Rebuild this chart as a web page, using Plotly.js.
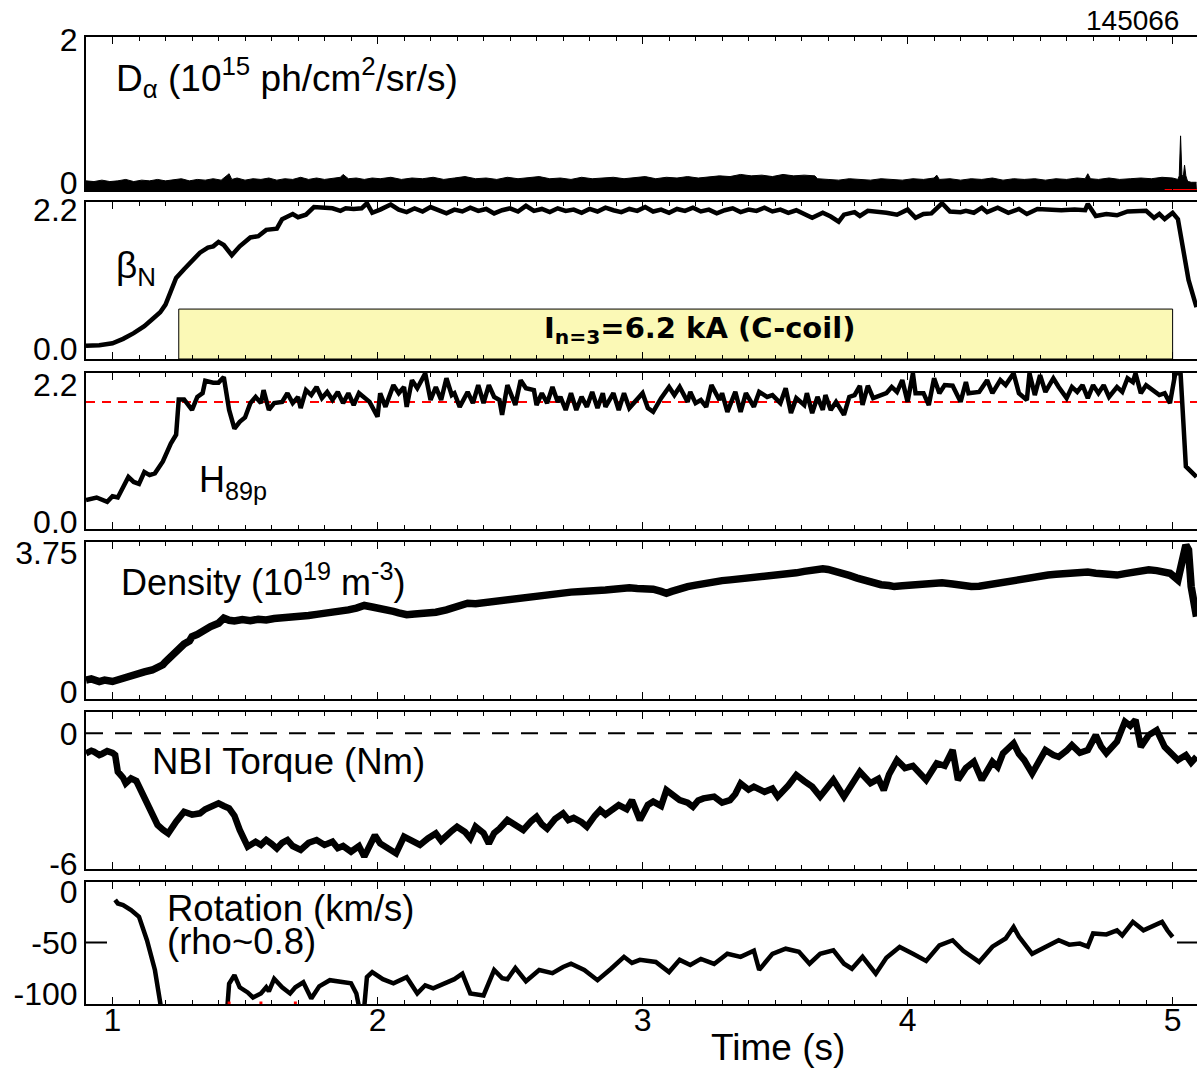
<!DOCTYPE html>
<html>
<head>
<meta charset="utf-8">
<script src="https://cdn.plot.ly/plotly-3.0.1.min.js"></script>
<style>html,body{margin:0;padding:0;background:#fff;}#chart{width:1197px;height:1068px;}</style>
</head>
<body>
<div id="chart"></div>
<script>
// ---------------- DATA ----------------
const xRange = [0.9, 5.092];

// D-alpha envelope (10^15 ph/cm^2/sr/s)
const daTime = [0.90,0.93,0.96,0.99,1.02,1.05,1.08,1.11,1.14,1.17,1.20,1.23,1.26,1.29,1.32,1.35,1.38,1.41,1.44,1.45,1.47,1.50,1.53,1.56,1.59,1.62,1.65,1.68,1.71,1.74,1.77,1.80,1.83,1.86,1.87,1.89,1.92,1.95,1.98,2.01,2.05,2.09,2.13,2.17,2.21,2.25,2.29,2.33,2.37,2.41,2.45,2.49,2.53,2.57,2.61,2.65,2.69,2.73,2.77,2.81,2.85,2.89,2.93,2.97,3.01,3.05,3.09,3.13,3.17,3.21,3.25,3.29,3.33,3.37,3.41,3.45,3.49,3.53,3.57,3.61,3.65,3.66,3.70,3.74,3.78,3.82,3.86,3.90,3.94,3.98,4.02,4.06,4.10,4.11,4.12,4.16,4.20,4.24,4.28,4.32,4.36,4.40,4.44,4.48,4.52,4.56,4.60,4.64,4.67,4.68,4.69,4.72,4.76,4.80,4.84,4.88,4.92,4.96,5.00,5.02,5.025,5.03,5.035,5.04,5.045,5.05,5.055,5.06,5.07,5.09];
const daValue = [0.03,0.02,0.04,0.02,0.03,0.05,0.02,0.04,0.03,0.05,0.03,0.04,0.06,0.03,0.05,0.04,0.06,0.04,0.13,0.05,0.07,0.04,0.06,0.05,0.07,0.04,0.06,0.05,0.08,0.05,0.07,0.05,0.06,0.08,0.12,0.06,0.07,0.05,0.07,0.06,0.08,0.05,0.07,0.06,0.08,0.05,0.07,0.09,0.06,0.07,0.05,0.08,0.06,0.07,0.09,0.06,0.07,0.05,0.08,0.06,0.07,0.08,0.06,0.07,0.09,0.06,0.08,0.07,0.09,0.07,0.08,0.10,0.09,0.12,0.10,0.11,0.09,0.12,0.10,0.11,0.10,0.06,0.05,0.04,0.06,0.05,0.04,0.06,0.05,0.04,0.06,0.05,0.07,0.11,0.05,0.06,0.04,0.06,0.05,0.07,0.04,0.06,0.05,0.06,0.04,0.06,0.05,0.07,0.06,0.13,0.06,0.05,0.07,0.05,0.06,0.07,0.06,0.08,0.07,0.05,0.10,0.66,0.12,0.08,0.25,0.10,0.04,0.02,0.01,0.01];
const daBaseline = [-0.1, -0.1];
const daRedTime = [4.97, 5.092];
const daRedValue = [-0.094, -0.094];

// beta_N
const betaTime = [0.90,0.95,1.00,1.04,1.08,1.12,1.15,1.18,1.20,1.22,1.24,1.27,1.30,1.33,1.36,1.38,1.40,1.42,1.45,1.48,1.52,1.55,1.58,1.62,1.64,1.68,1.70,1.73,1.76,1.80,1.83,1.86,1.88,1.91,1.94,1.96,1.98,2.01,2.05,2.08,2.11,2.14,2.17,2.20,2.23,2.26,2.29,2.32,2.35,2.38,2.41,2.44,2.47,2.50,2.53,2.56,2.59,2.62,2.65,2.68,2.71,2.74,2.77,2.80,2.83,2.86,2.89,2.92,2.95,2.98,3.01,3.04,3.07,3.10,3.13,3.16,3.19,3.22,3.25,3.28,3.31,3.34,3.37,3.40,3.43,3.46,3.49,3.52,3.55,3.58,3.61,3.64,3.68,3.71,3.74,3.76,3.80,3.82,3.85,3.88,3.92,3.96,4.00,4.03,4.06,4.09,4.13,4.16,4.20,4.22,4.25,4.28,4.30,4.34,4.38,4.42,4.45,4.49,4.53,4.58,4.63,4.67,4.68,4.71,4.75,4.79,4.83,4.87,4.90,4.93,4.95,4.97,5.00,5.02,5.04,5.06,5.09];
const betaValue = [0.05,0.06,0.09,0.16,0.25,0.36,0.47,0.58,0.70,0.90,1.12,1.26,1.40,1.52,1.60,1.62,1.69,1.64,1.48,1.62,1.76,1.78,1.88,1.90,2.05,2.13,2.08,2.12,2.24,2.22,2.22,2.18,2.22,2.21,2.22,2.30,2.15,2.20,2.28,2.20,2.16,2.22,2.17,2.24,2.19,2.14,2.20,2.17,2.23,2.18,2.21,2.14,2.19,2.22,2.17,2.26,2.18,2.21,2.16,2.22,2.18,2.20,2.15,2.21,2.17,2.23,2.19,2.16,2.21,2.18,2.24,2.17,2.20,2.15,2.21,2.18,2.23,2.17,2.20,2.14,2.19,2.22,2.16,2.20,2.18,2.23,2.17,2.20,2.15,2.19,2.13,2.07,2.15,2.09,2.01,2.12,2.16,2.10,2.18,2.17,2.15,2.12,2.20,2.07,2.13,2.14,2.30,2.17,2.16,2.18,2.15,2.23,2.16,2.23,2.15,2.21,2.13,2.21,2.20,2.19,2.20,2.19,2.29,2.10,2.13,2.11,2.17,2.17,2.18,2.07,2.13,2.05,2.15,2.05,1.57,1.09,0.66];
const coilStart = 1.25, coilEnd = 5.0, coilTop = 0.63;

// H89p
const hTime = [0.90,0.94,0.98,1.00,1.02,1.06,1.08,1.10,1.12,1.14,1.16,1.18,1.19,1.22,1.24,1.25,1.27,1.30,1.32,1.34,1.35,1.38,1.40,1.42,1.44,1.46,1.48,1.50,1.52,1.54,1.56,1.57,1.59,1.61,1.64,1.66,1.68,1.70,1.71,1.73,1.75,1.77,1.79,1.81,1.83,1.85,1.87,1.89,1.91,1.93,1.95,1.97,2.00,2.01,2.03,2.06,2.08,2.10,2.11,2.13,2.15,2.18,2.20,2.22,2.24,2.26,2.28,2.29,2.31,2.34,2.36,2.38,2.40,2.42,2.44,2.46,2.47,2.49,2.52,2.54,2.56,2.59,2.60,2.62,2.64,2.66,2.68,2.69,2.71,2.73,2.75,2.77,2.79,2.81,2.83,2.85,2.86,2.89,2.91,2.93,2.95,2.98,3.00,3.02,3.04,3.07,3.10,3.12,3.14,3.17,3.18,3.20,3.22,3.24,3.26,3.29,3.30,3.32,3.35,3.37,3.39,3.42,3.44,3.47,3.49,3.52,3.54,3.56,3.58,3.61,3.62,3.64,3.66,3.68,3.69,3.71,3.73,3.76,3.78,3.80,3.82,3.83,3.85,3.87,3.92,3.94,3.96,3.98,4.00,4.02,4.03,4.06,4.08,4.10,4.12,4.14,4.17,4.20,4.22,4.23,4.27,4.30,4.32,4.35,4.37,4.40,4.42,4.45,4.46,4.48,4.50,4.52,4.55,4.57,4.60,4.62,4.64,4.66,4.68,4.70,4.72,4.74,4.76,4.79,4.81,4.83,4.85,4.86,4.88,4.90,4.93,4.95,4.97,4.99,5.01,5.03,5.04,5.05,5.09];
const hValue = [0.35,0.39,0.32,0.41,0.39,0.72,0.64,0.61,0.80,0.75,0.78,0.90,0.97,1.26,1.40,1.97,1.97,1.80,2.01,2.07,2.27,2.24,2.24,2.33,1.80,1.50,1.61,1.68,1.91,2.01,1.91,2.12,1.80,1.91,1.93,2.07,1.91,2.01,1.83,2.12,2.04,2.17,1.99,2.09,1.96,2.09,1.91,2.07,1.88,2.07,1.99,1.93,1.69,2.07,1.85,2.20,2.07,2.17,1.85,2.28,2.15,2.39,1.96,2.17,1.96,2.31,2.04,2.07,1.85,2.09,1.91,2.20,1.91,2.20,2.01,1.96,1.72,2.20,1.88,2.28,2.15,2.12,1.88,2.07,1.91,2.17,1.93,2.01,1.80,2.07,1.80,2.01,1.85,2.09,1.83,2.07,1.85,2.07,1.80,2.07,1.83,1.96,2.07,1.83,1.77,1.99,2.17,2.04,2.17,1.93,2.09,1.91,1.96,1.85,2.20,1.96,2.07,1.77,2.09,1.77,2.07,1.85,2.09,2.01,2.04,1.91,2.15,1.75,1.99,1.88,2.07,1.75,2.01,1.80,2.04,1.80,1.93,1.72,2.01,2.04,2.19,1.88,2.19,1.99,2.07,2.17,2.09,2.28,1.93,2.39,2.07,2.07,1.88,2.31,2.07,2.20,2.19,1.93,2.25,2.07,2.09,2.28,2.07,2.28,2.20,2.39,2.07,1.96,2.39,2.04,2.36,2.09,2.31,2.17,1.99,2.17,2.09,2.20,1.99,2.20,2.07,2.20,2.01,2.17,2.09,2.31,2.25,2.39,2.07,2.20,2.09,2.04,2.07,1.91,2.39,2.39,1.64,0.89,0.72];
const hRef = [1.93, 1.93];

// Density (10^19 m^-3)
const neTime = [0.90,0.92,0.95,0.97,1.00,1.02,1.04,1.06,1.08,1.10,1.12,1.15,1.17,1.19,1.20,1.22,1.23,1.25,1.27,1.29,1.30,1.32,1.34,1.36,1.37,1.40,1.42,1.44,1.46,1.49,1.52,1.55,1.58,1.61,1.65,1.68,1.71,1.74,1.77,1.80,1.83,1.86,1.89,1.92,1.95,1.98,2.01,2.03,2.06,2.08,2.11,2.14,2.18,2.22,2.26,2.30,2.34,2.37,2.40,2.43,2.45,2.48,2.52,2.55,2.58,2.61,2.64,2.67,2.70,2.73,2.77,2.80,2.83,2.86,2.89,2.92,2.95,2.98,3.00,3.02,3.04,3.07,3.09,3.11,3.13,3.15,3.17,3.20,3.22,3.25,3.27,3.30,3.33,3.36,3.39,3.42,3.45,3.48,3.52,3.55,3.58,3.61,3.64,3.66,3.68,3.70,3.72,3.75,3.78,3.81,3.85,3.88,3.90,3.93,3.95,3.98,4.02,4.06,4.10,4.13,4.17,4.20,4.24,4.27,4.30,4.33,4.35,4.38,4.41,4.44,4.47,4.50,4.53,4.56,4.60,4.64,4.68,4.71,4.74,4.77,4.79,4.82,4.85,4.88,4.91,4.94,4.96,4.99,5.02,5.04,5.05,5.06,5.07,5.09];
const neValue = [0.33,0.36,0.29,0.33,0.29,0.34,0.38,0.41,0.47,0.50,0.55,0.60,0.65,0.74,0.82,0.96,1.05,1.19,1.30,1.38,1.50,1.56,1.65,1.72,1.77,1.86,2.00,1.94,1.92,1.96,1.93,1.97,1.95,1.99,2.00,2.03,2.04,2.07,2.10,2.12,2.17,2.20,2.22,2.27,2.34,2.30,2.27,2.22,2.18,2.14,2.09,2.11,2.12,2.16,2.22,2.32,2.40,2.39,2.42,2.45,2.44,2.48,2.52,2.54,2.58,2.62,2.65,2.67,2.71,2.70,2.72,2.75,2.74,2.76,2.78,2.81,2.82,2.80,2.80,2.82,2.78,2.72,2.67,2.72,2.78,2.81,2.85,2.89,2.92,2.96,2.98,3.01,3.03,3.05,3.07,3.08,3.10,3.13,3.16,3.18,3.22,3.26,3.30,3.32,3.33,3.31,3.28,3.22,3.15,3.08,2.98,2.94,2.90,2.88,2.85,2.87,2.90,2.94,2.96,2.95,2.92,2.88,2.85,2.86,2.90,2.93,2.94,2.98,3.02,3.07,3.12,3.14,3.16,3.18,3.21,3.23,3.24,3.21,3.18,3.17,3.16,3.20,3.24,3.27,3.30,3.28,3.26,3.21,3.03,3.85,3.97,3.84,2.85,2.04];

// NBI torque (Nm)
const tqTime = [0.90,0.92,0.93,0.95,0.96,0.98,1.00,1.01,1.02,1.04,1.05,1.07,1.09,1.11,1.13,1.15,1.17,1.19,1.21,1.24,1.27,1.30,1.33,1.35,1.37,1.40,1.42,1.44,1.46,1.48,1.51,1.54,1.56,1.58,1.60,1.62,1.64,1.66,1.68,1.71,1.74,1.77,1.80,1.83,1.85,1.87,1.90,1.93,1.95,1.97,1.99,2.01,2.04,2.07,2.10,2.13,2.16,2.19,2.22,2.24,2.26,2.28,2.30,2.33,2.35,2.37,2.40,2.42,2.44,2.46,2.49,2.52,2.55,2.58,2.60,2.62,2.64,2.67,2.70,2.72,2.74,2.77,2.79,2.82,2.84,2.86,2.88,2.91,2.94,2.96,2.99,3.02,3.04,3.07,3.09,3.12,3.14,3.17,3.19,3.21,3.23,3.27,3.30,3.33,3.35,3.37,3.40,3.42,3.46,3.49,3.51,3.55,3.58,3.61,3.64,3.67,3.70,3.72,3.76,3.79,3.82,3.86,3.89,3.91,3.93,3.96,3.99,4.02,4.05,4.07,4.11,4.14,4.17,4.19,4.22,4.25,4.28,4.32,4.34,4.36,4.40,4.42,4.44,4.47,4.50,4.52,4.55,4.57,4.60,4.62,4.65,4.68,4.71,4.73,4.75,4.79,4.82,4.84,4.86,4.88,4.91,4.94,4.97,5.00,5.02,5.05,5.07,5.09];
const tqValue = [-0.92,-0.80,-0.85,-1.00,-0.95,-0.82,-0.90,-1.00,-1.77,-2.05,-2.31,-2.08,-2.20,-2.75,-3.23,-3.70,-4.23,-4.45,-4.62,-4.08,-3.62,-3.75,-3.69,-3.50,-3.39,-3.23,-3.35,-3.46,-3.80,-4.46,-5.23,-5.00,-5.15,-4.92,-5.10,-5.31,-5.05,-4.92,-5.20,-5.38,-5.05,-4.92,-5.15,-5.00,-5.30,-5.20,-5.46,-5.20,-5.69,-5.15,-4.70,-5.08,-5.30,-5.54,-4.77,-5.00,-5.15,-4.85,-4.62,-4.95,-4.70,-4.50,-4.31,-4.55,-4.85,-4.31,-4.60,-5.08,-4.60,-4.40,-4.00,-4.25,-4.46,-4.05,-3.85,-4.20,-4.40,-3.95,-3.69,-4.00,-3.90,-4.10,-4.31,-3.80,-3.54,-3.75,-3.60,-3.31,-3.50,-3.08,-4.00,-3.30,-3.15,-3.35,-2.62,-2.90,-3.08,-3.20,-3.39,-3.10,-3.00,-2.92,-3.20,-3.08,-2.80,-2.31,-2.60,-2.46,-2.70,-2.55,-2.92,-2.40,-1.92,-2.20,-2.46,-2.92,-2.40,-2.15,-2.92,-2.30,-1.77,-2.30,-2.10,-2.62,-1.90,-1.23,-1.60,-1.50,-1.85,-2.15,-1.38,-1.50,-0.77,-2.15,-1.60,-1.31,-2.15,-1.31,-1.55,-0.92,-0.46,-0.95,-1.23,-1.85,-1.20,-0.77,-1.00,-1.08,-0.80,-0.54,-0.90,-0.77,-0.08,-0.60,-0.92,-0.38,0.54,0.35,0.62,-0.62,-0.08,0.15,-0.62,-0.95,-1.23,-1.00,-1.35,-1.08];
const tqZero = [0, 0];

// Toroidal rotation (km/s) at rho~0.8
const rotTime = [1.01,1.02,1.04,1.07,1.10,1.13,1.16,1.17,1.19,1.30,1.43,1.44,1.46,1.48,1.51,1.53,1.56,1.58,1.59,1.61,1.64,1.67,1.69,1.72,1.75,1.78,1.82,1.86,1.90,1.92,1.93,1.95,1.96,1.98,2.02,2.06,2.11,2.15,2.18,2.21,2.26,2.29,2.32,2.35,2.40,2.44,2.47,2.49,2.52,2.56,2.61,2.66,2.70,2.73,2.78,2.83,2.88,2.93,2.96,2.99,3.05,3.10,3.14,3.18,3.22,3.27,3.32,3.37,3.42,3.44,3.49,3.54,3.59,3.63,3.67,3.72,3.76,3.79,3.83,3.88,3.92,3.97,4.02,4.07,4.12,4.17,4.21,4.27,4.32,4.37,4.40,4.42,4.47,4.52,4.57,4.61,4.65,4.68,4.70,4.75,4.79,4.81,4.85,4.89,4.93,4.96,4.98,5.00];
const rotValue = [-8,-11.5,-13,-18,-24.7,-47.7,-77,-97,-125,null,-125,-90.5,-82,-94,-99,-104,-100,-94,-98,-85.6,-94,-100,-94,-89,-105,-93,-87,-89,-90,-100,-113,-113,-84,-79,-86,-90,-84,-100,-92,-95,-90,-86,-80.6,-100,-102,-77,-85,-86,-75,-88,-77,-80,-74,-70.8,-77,-87,-76,-64,-70,-67,-69,-79,-67,-72,-66,-71,-61,-64,-58,-76.8,-61,-56,-59,-70.8,-61,-57.6,-70.8,-75.7,-64,-80.6,-65,-54.3,-61,-68,-52.7,-47.7,-58,-69,-54,-46,-34.6,-44,-61,-54,-47.7,-52,-51,-54,-41,-42,-37.9,-43,-29.6,-37.9,-32.9,-29.6,-37.9,-44.5];
const rotRedTime = [1.44, 1.56, 1.69];
const rotRedValue = [-109.5, -109.5, -109.5];

// Tick labels
const yTicks = [
  {vals: [0, 2], text: ['0', '2']},
  {vals: [0, 2.2], text: ['0.0', '2.2']},
  {vals: [0, 2.2], text: ['0.0', '2.2']},
  {vals: [0, 3.75], text: ['0', '3.75']},
  {vals: [0, -6], text: ['0', '-6']},
  {vals: [0, -50, -100], text: ['0', '-50', '-100']}
];
const yRanges = [[-0.098, 2.04], [-0.158, 2.32], [-0.122, 2.40], [-0.19, 4.06], [-6.26, 1.0], [-110.4, 9.9]];
// pixel boxes of the panels (top, bottom) in the 1068-px tall figure
const panelPx = [[37.3, 190], [202, 359], [372.7, 529.3], [541.7, 699.3], [711.7, 869], [881.7, 1004]];

// ---------------- BUILD ----------------
const H = 1068, W = 1197, L = 86;
const FONT = 'Liberation Sans, Arial, Helvetica, sans-serif';
const px2x = p => (p - L) / (W - L);
const px2y = p => 1 - p / H;

const traces = [];
// Panel 1
traces.push({x: xRange, y: daBaseline, xaxis: 'x', yaxis: 'y', mode: 'lines', line: {width: 0, color: 'black'}, hoverinfo: 'skip'});
traces.push({x: daTime, y: daValue, xaxis: 'x', yaxis: 'y', mode: 'lines', line: {width: 1, color: 'black'}, fill: 'tonexty', fillcolor: 'black'});
traces.push({x: daRedTime, y: daRedValue, xaxis: 'x', yaxis: 'y', mode: 'lines', line: {width: 1.5, color: 'red'}});
// Panel 2
traces.push({x: betaTime, y: betaValue, xaxis: 'x2', yaxis: 'y2', mode: 'lines', line: {width: 4.5, color: 'black'}});
// Panel 3
traces.push({x: xRange, y: hRef, xaxis: 'x3', yaxis: 'y3', mode: 'lines', line: {width: 2, color: '#ff0000', dash: '9px,7px'}});
traces.push({x: hTime, y: hValue, xaxis: 'x3', yaxis: 'y3', mode: 'lines', line: {width: 4.5, color: 'black'}});
// Panel 4
traces.push({x: neTime, y: neValue, xaxis: 'x4', yaxis: 'y4', mode: 'lines', line: {width: 7.5, color: 'black'}});
// Panel 5
traces.push({x: xRange, y: tqZero, xaxis: 'x5', yaxis: 'y5', mode: 'lines', line: {width: 2, color: 'black', dash: '17px,12px'}});
traces.push({x: tqTime, y: tqValue, xaxis: 'x5', yaxis: 'y5', mode: 'lines', line: {width: 6.5, color: 'black'}});
// Panel 6
traces.push({x: rotTime, y: rotValue, xaxis: 'x6', yaxis: 'y6', mode: 'lines', line: {width: 4.5, color: 'black'}, connectgaps: false});
traces.push({x: rotRedTime, y: rotRedValue, xaxis: 'x6', yaxis: 'y6', mode: 'markers', marker: {size: 3, color: 'red', symbol: 'square'}});

const layout = {
  width: W, height: H,
  margin: {l: L, r: 0, t: 0, b: 0},
  paper_bgcolor: 'white', plot_bgcolor: 'white',
  showlegend: false,
  font: {family: FONT, color: 'black', size: 32},
  shapes: [],
  annotations: []
};

for (let i = 0; i < 6; i++) {
  const n = i === 0 ? '' : String(i + 1);
  const xa = {
    domain: [0, 1], anchor: 'y' + n, range: xRange,
    showline: true, linewidth: 2, linecolor: 'black', mirror: 'allticks',
    ticks: 'inside', ticklen: 7, tickwidth: 1.5, tickcolor: 'black', tick0: 0, dtick: 1,
    minor: {dtick: 0.1, ticks: 'inside', ticklen: 4, tickwidth: 1, tickcolor: 'black'},
    showgrid: false, zeroline: false, showticklabels: i === 5,
    tickfont: {family: FONT, size: 32, color: 'black'}, fixedrange: true
  };
  if (i > 0) xa.matches = 'x';
  if (i === 5) xa.ticklabelstandoff = -13;
  layout['xaxis' + n] = xa;
  layout['yaxis' + n] = {
    domain: [px2y(panelPx[i][1]), px2y(panelPx[i][0])], anchor: 'x' + n, range: yRanges[i],
    showline: true, linewidth: 2, linecolor: 'black', mirror: false,
    ticks: '', tickvals: yTicks[i].vals, ticktext: yTicks[i].text,
    tickfont: {family: FONT, size: 32, color: 'black'},
    showgrid: false, zeroline: false, fixedrange: true
  };
}

// C-coil box
layout.shapes.push({type: 'rect', xref: 'x2', yref: 'y2', x0: coilStart, x1: coilEnd, y0: yRanges[1][0], y1: coilTop,
  fillcolor: '#fbf9b6', line: {color: 'black', width: 1}, layer: 'below'});
// -50 ticks in the rotation panel
layout.shapes.push({type: 'line', xref: 'x6 domain', yref: 'y6', x0: 0, x1: 21 / (W - L), y0: -50, y1: -50, line: {color: 'black', width: 2}});
layout.shapes.push({type: 'line', xref: 'x6 domain', yref: 'y6', x0: (1177 - L) / (W - L), x1: 1, y0: -50, y1: -50, line: {color: 'black', width: 2}});

function ann(text, xpx, ypx, size, xanchor, extra) {
  layout.annotations.push(Object.assign({
    text: text, xref: 'paper', yref: 'paper', x: px2x(xpx), y: px2y(ypx),
    xanchor: xanchor, yanchor: 'middle', showarrow: false,
    font: {family: FONT, size: size, color: 'black'}
  }, extra || {}));
}
ann('145066', 1181, 21, 28, 'right');
ann('D<sub>α</sub> (10<sup>15</sup> ph/cm<sup>2</sup>/sr/s)', 114, 77, 37, 'left');
ann('β<sub>N</sub>', 114, 268, 37, 'left');
ann('H<sub>89p</sub>', 197, 482, 36, 'left');
ann('Density (10<sup>19</sup> m<sup>-3</sup>)', 119, 580, 36, 'left');
ann('NBI Torque (Nm)', 150, 761, 36.5, 'left');
ann('Rotation (km/s)', 165, 908, 36.5, 'left');
ann('(rho~0.8)', 165, 941, 36.5, 'left');
ann('Time (s)', 778, 1047, 37, 'center');
ann('<b>I<sub>n=3</sub>=6.2 kA (C-coil)</b>', 699, 330, 29, 'center', {font: {family: 'DejaVu Sans, sans-serif', size: 29, color: 'black'}});

Plotly.newPlot('chart', traces, layout, {displayModeBar: false, staticPlot: true});
</script>
</body>
</html>
